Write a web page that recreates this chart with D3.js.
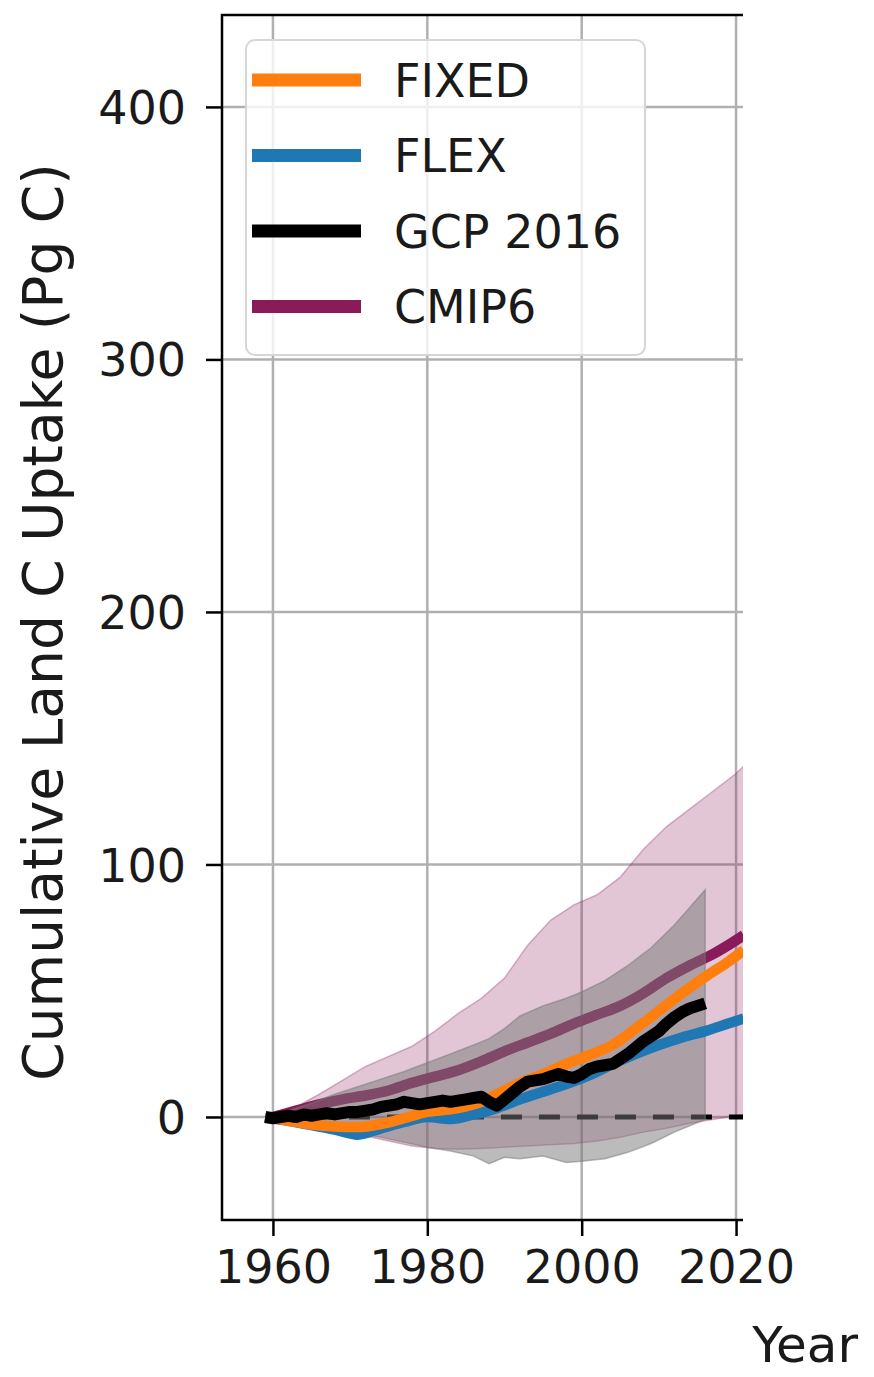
<!DOCTYPE html>
<html>
<head>
<meta charset="utf-8">
<script src="https://cdn.jsdelivr.net/npm/d3@7"></script>
<style>
  body { margin: 0; background: #fff; }
  svg text { font-family: "DejaVu Sans", sans-serif; fill: #1a1a1a; }
</style>
</head>
<body>
<svg id="chart" width="874" height="1377"></svg>
<script>
// model runs, sampled every 3 years
const runYears = [1959, 1962, 1965, 1968, 1971, 1974, 1977, 1980, 1983, 1986, 1989, 1992,
    1995, 1998, 2001, 2004, 2007, 2010, 2013, 2016, 2019, 2021];
const fixedVals = [0, -1.5, -3, -3.8, -4, -2.8, -0.5, 2, 3, 5, 9, 13.5,
    17, 21, 24.5, 28.5, 35, 42, 49, 55.5, 61.5, 66];
const flexVals = [0, -1.5, -3.2, -5, -7, -4.5, -2, 0, -0.8, 1, 3.5, 7,
    10, 13, 16.5, 21, 25, 28.5, 31.5, 34, 37, 39];

// CMIP6 ensemble mean and spread
const cmipYears = [1960, 1963, 1966, 1969, 1972, 1975, 1978, 1981, 1984, 1987, 1990, 1993,
    1996, 1999, 2002, 2005, 2008, 2011, 2014, 2017, 2020, 2021];
const cmipMean = [0, 2.5, 5, 7, 8.5, 10.5, 13.5, 16, 18.5, 22, 26, 29.5,
    33, 37, 40.5, 44, 49, 55, 60, 64.5, 70, 72];
const cmipHigh = [0, 4, 9, 14.5, 20, 24, 28, 34, 41, 47, 55, 68,
    78, 84, 88, 95, 106, 115, 122, 129, 136, 139];
const cmipLow = [0, -2, -3.5, -5.5, -7.5, -9.5, -11.5, -12.5, -12.8, -12.5, -12, -11.5,
    -11, -10.5, -9.5, -8, -6, -4.5, -2.5, -1, 0.5, 1];

// GCP 2016 uncertainty range
const gcpBandYears = [1959, 1962, 1965, 1968, 1971, 1974, 1977, 1980, 1983, 1986, 1988, 1990,
    1992, 1995, 1998, 2000, 2003, 2006, 2009, 2012, 2014, 2016];
const gcpHigh = [0, 2.5, 5.5, 9, 12, 15, 18, 21.5, 25, 28.5, 31, 35,
    40, 44, 47, 49.5, 54, 60, 67, 76, 83, 90];
const gcpLow = [0, -2, -3.5, -5, -6.5, -8, -10, -12, -13.5, -15.5, -18.5, -16,
    -16.5, -15.5, -18, -17.5, -16.5, -14, -10.5, -6, -3.5, -1];

// GCP 2016 annual cumulative land sink
const gcpYears = d3.range(1959, 2017);
const gcpVals = [0, -0.5, 0, 0.5, 0, 1, 0.5, 1, 1.5, 1, 1.5, 2,
    2, 2.5, 3, 4, 4.5, 5, 6, 5.5, 5, 5.5, 6, 6.5,
    6, 6.5, 7, 7.5, 8, 6, 4.5, 7, 9.5, 12, 14, 14.5,
    15, 16, 17, 16, 15.5, 17, 19, 20, 20.5, 21, 23, 25,
    27.5, 30, 32, 34, 37, 39.5, 41.5, 43, 44, 45];

const xTicks = [1960, 1980, 2000, 2020];
const yTicks = [0, 100, 200, 300, 400];

const legendItems = [
    { label: 'FIXED', color: '#ff7f0e' },
    { label: 'FLEX', color: '#1f77b4' },
    { label: 'GCP 2016', color: '#000000' },
    { label: 'CMIP6', color: '#8b1a58' }
];

const svg = d3.select('#chart');
const plot = { left: 222, right: 743, top: 15, bottom: 1220 };

const x = d3.scaleLinear().domain([1953.4, 2020.9]).range([plot.left, plot.right]);
const y = d3.scaleLinear().domain([-40.8, 436.4]).range([plot.bottom, plot.top]);

svg.append('defs').append('clipPath').attr('id', 'plotClip')
    .append('rect')
    .attr('x', plot.left).attr('y', plot.top)
    .attr('width', plot.right - plot.left).attr('height', plot.bottom - plot.top);

// grid
const grid = svg.append('g');
grid.selectAll('.gx').data(xTicks).join('line')
    .attr('x1', d => x(d)).attr('x2', d => x(d))
    .attr('y1', plot.top).attr('y2', plot.bottom)
    .attr('stroke', '#b0b0b0').attr('stroke-width', 2.5);
grid.selectAll('.gy').data(yTicks).join('line')
    .attr('x1', plot.left).attr('x2', plot.right)
    .attr('y1', d => y(d)).attr('y2', d => y(d))
    .attr('stroke', '#b0b0b0').attr('stroke-width', 2.5);

const g = svg.append('g').attr('clip-path', 'url(#plotClip)');

function band(years, lo, hi) {
    return d3.area()
        .x((d, i) => x(years[i]))
        .y0((d, i) => y(lo[i]))
        .y1((d, i) => y(hi[i]))(years);
}
function line(years, vals, curve) {
    return d3.line()
        .x((d, i) => x(years[i]))
        .y((d, i) => y(vals[i]))
        .curve(curve || d3.curveMonotoneX)(years);
}

// CMIP6 spread
g.append('path')
    .attr('d', band(cmipYears, cmipLow, cmipHigh))
    .attr('fill', '#8b1a58').attr('fill-opacity', 0.25)
    .attr('stroke', '#8b1a58').attr('stroke-opacity', 0.3).attr('stroke-width', 1.5);

g.append('path')
    .attr('d', line(cmipYears, cmipMean))
    .attr('fill', 'none').attr('stroke', '#8b1a58').attr('stroke-width', 10.5);

// zero line
g.append('line')
    .attr('x1', x(1960)).attr('x2', plot.right)
    .attr('y1', y(0)).attr('y2', y(0))
    .attr('stroke', '#000').attr('stroke-width', 5)
    .attr('stroke-dasharray', '21 17');

// GCP spread
g.append('path')
    .attr('d', band(gcpBandYears, gcpLow, gcpHigh))
    .attr('fill', '#777').attr('fill-opacity', 0.5)
    .attr('stroke', '#777').attr('stroke-opacity', 0.5).attr('stroke-width', 1.5);

g.append('path')
    .attr('d', line(runYears, flexVals))
    .attr('fill', 'none').attr('stroke', '#1f77b4').attr('stroke-width', 10.5);

g.append('path')
    .attr('d', line(runYears, fixedVals))
    .attr('fill', 'none').attr('stroke', '#ff7f0e').attr('stroke-width', 10.5);

g.append('path')
    .attr('d', line(gcpYears, gcpVals, d3.curveLinear))
    .attr('fill', 'none').attr('stroke', '#000').attr('stroke-width', 12)
    .attr('stroke-linejoin', 'round');

// spines (right side is cut off in the figure)
svg.append('path')
    .attr('d', `M${plot.right},${plot.top}H${plot.left}V${plot.bottom}H${plot.right}`)
    .attr('fill', 'none').attr('stroke', '#000').attr('stroke-width', 2.5);

// axes
const yAxis = svg.append('g').attr('transform', `translate(${plot.left},0)`)
    .call(d3.axisLeft(y).tickValues(yTicks).tickSize(16).tickPadding(20));
const xAxis = svg.append('g').attr('transform', `translate(0,${plot.bottom})`)
    .call(d3.axisBottom(x).tickValues(xTicks).tickFormat(d3.format('d')).tickSize(16).tickPadding(14));
[xAxis, yAxis].forEach(a => {
    a.select('.domain').remove();
    a.selectAll('.tick line').attr('stroke', '#000').attr('stroke-width', 2.5);
    a.selectAll('.tick text').style('font-size', '46px').attr('fill', '#1a1a1a');
});
yAxis.selectAll('.tick text').attr('dy', '0.36em');

svg.append('text')
    .attr('transform', 'translate(62,622) rotate(-90)')
    .attr('text-anchor', 'middle')
    .style('font-size', '55px')
    .text('Cumulative Land C Uptake (Pg C)');

svg.append('text')
    .attr('x', 858).attr('y', 1362)
    .attr('text-anchor', 'end')
    .style('font-size', '50px')
    .text('Year');

// legend
const legend = svg.append('g');
legend.append('rect')
    .attr('x', 246).attr('y', 40).attr('width', 399).attr('height', 315)
    .attr('rx', 9)
    .attr('fill', '#fff').attr('fill-opacity', 0.8)
    .attr('stroke', '#d6d6d6').attr('stroke-width', 2);
const rows = legend.selectAll('.row').data(legendItems).join('g')
    .attr('transform', (d, i) => `translate(0,${80 + i * 75.5})`);
rows.append('line')
    .attr('x1', 252).attr('x2', 361)
    .attr('stroke', d => d.color).attr('stroke-width', 13);
rows.append('text')
    .attr('x', 394).attr('dy', '0.36em')
    .style('font-size', '46px')
    .text(d => d.label);
</script>
</body>
</html>
